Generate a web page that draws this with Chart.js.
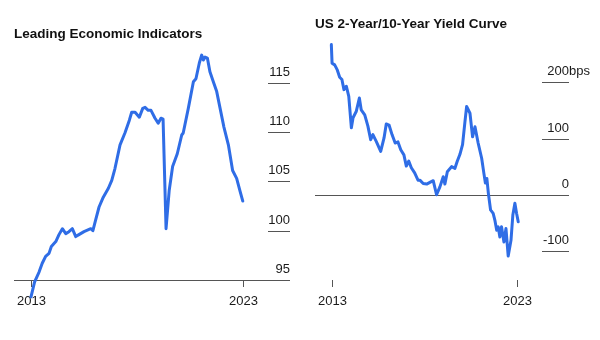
<!DOCTYPE html>
<html>
<head>
<meta charset="utf-8">
<script src="https://cdn.jsdelivr.net/npm/chart.js@4.4.0/dist/chart.umd.min.js"></script>
<style>
  body { margin: 0; background: #fff; }
  .panel { position: absolute; top: 0; width: 300px; height: 340px; }
  .title { position: absolute; font: bold 13.5px "Liberation Sans", Arial, sans-serif; line-height: 16px; color: #111; white-space: nowrap; }
</style>
</head>
<body>
<div class="panel" style="left:0">
  <canvas id="lei" width="300" height="340"></canvas>
  <div class="title" style="left:14px;top:26px">Leading Economic Indicators</div>
</div>
<div class="panel" style="left:300px">
  <canvas id="curve" width="300" height="340"></canvas>
  <div class="title" style="left:15px;top:16px">US 2-Year/10-Year Yield Curve</div>
</div>
<script>
// years on the x axis (decimal)
const yearTicks = [2013, 2023];

const leiYears = [2013.0, 2013.17, 2013.38, 2013.53, 2013.69, 2013.85, 2013.96, 2014.17, 2014.32, 2014.48,
  2014.64, 2014.79, 2014.95, 2015.11, 2015.26, 2015.5, 2015.82, 2015.92, 2016.05, 2016.21,
  2016.41, 2016.65, 2016.81, 2016.96, 2017.2, 2017.43, 2017.64, 2017.75, 2017.91, 2018.11,
  2018.27, 2018.38, 2018.53, 2018.66, 2018.85, 2019.0, 2019.13, 2019.23, 2019.37, 2019.52,
  2019.68, 2019.9, 2020.11, 2020.18, 2020.42, 2020.66, 2020.78, 2020.94, 2021.05, 2021.13,
  2021.21, 2021.32, 2021.44, 2021.6, 2021.76, 2021.92, 2022.1, 2022.31, 2022.51, 2022.7,
  2022.86, 2022.99];
const leiValues = [93.3, 94.8, 95.8, 96.7, 97.4, 97.7, 98.4, 98.9, 99.6, 100.2,
  99.7, 99.9, 100.2, 99.4, 99.6, 99.9, 100.2, 100.0, 101.1, 102.4,
  103.4, 104.3, 105.1, 106.3, 108.7, 109.9, 111.2, 112.0, 112.0, 111.5,
  112.4, 112.5, 112.2, 112.2, 111.4, 110.9, 111.4, 111.3, 100.2, 104.1,
  106.5, 107.8, 109.7, 109.9, 112.4, 115.1, 115.4, 117.0, 117.8, 117.3,
  117.6, 117.5, 116.1, 115.1, 114.1, 112.4, 110.5, 108.7, 106.1, 105.3,
  104.0, 103.0];
const leiTicks = [95, 100, 105, 110, 115];

const curveYears = [2012.98, 2013.02, 2013.16, 2013.3, 2013.43, 2013.55, 2013.66, 2013.79, 2013.92, 2014.06,
  2014.15, 2014.32, 2014.49, 2014.59, 2014.78, 2014.95, 2015.1, 2015.22, 2015.4, 2015.64,
  2015.82, 2015.94, 2016.09, 2016.25, 2016.42, 2016.57, 2016.72, 2016.89, 2017.02, 2017.15,
  2017.29, 2017.47, 2017.65, 2017.75, 2017.93, 2018.12, 2018.29, 2018.47, 2018.65, 2018.83,
  2019.01, 2019.1, 2019.23, 2019.46, 2019.64, 2019.76, 2019.91, 2020.05, 2020.18, 2020.27,
  2020.45, 2020.59, 2020.72, 2020.89, 2021.08, 2021.2, 2021.28, 2021.36, 2021.44, 2021.56,
  2021.7, 2021.79, 2021.89, 2021.97, 2022.06, 2022.15, 2022.28, 2022.39, 2022.51, 2022.66,
  2022.76, 2022.87, 2022.96, 2023.05];
const curveBps = [267, 234, 231, 222, 209, 205, 187, 193, 175, 119,
  137, 148, 172, 151, 142, 122, 98, 107, 95, 77,
  101, 126, 124, 107, 92, 94, 80, 71, 51, 60,
  48, 39, 26, 26, 20, 19, 22, 25, 0, 14,
  32, 19, 41, 50, 47, 59, 72, 89, 130, 157,
  145, 103, 121, 92, 65, 38, 21, 29, 3, -27,
  -33, -45, -63, -57, -75, -57, -84, -60, -109, -81,
  -36, -15, -33, -48];
const curveTicks = [-100, 0, 100, 200];

const BLUE = '#2f6de6';
const FONT = '"Liberation Sans", Arial, sans-serif';

// right-side labels sitting on short rules, plus the year ticks underneath
const sideAxis = {
  id: 'sideAxis',
  beforeDatasetsDraw(chart, args, opts) {
    const { ctx } = chart;
    const xs = chart.scales.x, ys = chart.scales.y;
    ctx.save();
    ctx.font = '13px ' + FONT;
    ctx.fillStyle = '#1a1a1a';
    ctx.strokeStyle = '#555';
    ctx.lineWidth = 1;
    opts.ticks.forEach(v => {
      const py = Math.round(ys.getPixelForValue(v)) + 0.5;
      ctx.beginPath();
      ctx.moveTo(v === opts.base ? opts.lineLeft : opts.ruleLeft, py);
      ctx.lineTo(opts.ruleRight, py);
      ctx.stroke();
      ctx.textAlign = 'right';
      ctx.fillText(String(v), opts.ruleRight, py - 8);
      if (opts.unit && v === opts.ticks[opts.ticks.length - 1]) {
        ctx.textAlign = 'left';
        ctx.fillText(opts.unit, opts.ruleRight, py - 8);
      }
    });
    ctx.textAlign = 'center';
    yearTicks.forEach(yr => {
      const px = Math.round(xs.getPixelForValue(yr)) + 0.5;
      ctx.beginPath();
      ctx.moveTo(px, 280);
      ctx.lineTo(px, 287);
      ctx.stroke();
      ctx.fillText(String(yr), px, 305);
    });
    ctx.restore();
  }
};

function makeChart(id, xsArr, ysArr, yMin, yMax, padding, axisOpts) {
  return new Chart(document.getElementById(id), {
    type: 'line',
    data: {
      datasets: [{
        data: xsArr.map((x, i) => ({ x, y: ysArr[i] })),
        borderColor: BLUE,
        borderWidth: 3,
        pointRadius: 0,
        tension: 0,
        borderJoinStyle: 'round',
        borderCapStyle: 'round',
        clip: false
      }]
    },
    options: {
      responsive: false,
      animation: false,
      devicePixelRatio: 1,
      layout: { padding, autoPadding: false },
      plugins: { legend: { display: false }, tooltip: { enabled: false }, sideAxis: axisOpts },
      scales: {
        x: { type: 'linear', min: 2013, max: 2023, display: false },
        y: { min: yMin, max: yMax, display: false }
      }
    },
    plugins: [sideAxis]
  });
}

makeChart('lei', leiYears, leiValues, 95, 115,
  { left: 31, right: 57, top: 82.7, bottom: 60 },
  { ticks: leiTicks, base: 95, lineLeft: 14, ruleLeft: 268, ruleRight: 290 });

makeChart('curve', curveYears, curveBps, -100, 200,
  { left: 31.7, right: 82.7, top: 82.3, bottom: 89 },
  { ticks: curveTicks, base: 0, lineLeft: 15, ruleLeft: 242, ruleRight: 269, unit: 'bps' });
</script>
</body>
</html>
